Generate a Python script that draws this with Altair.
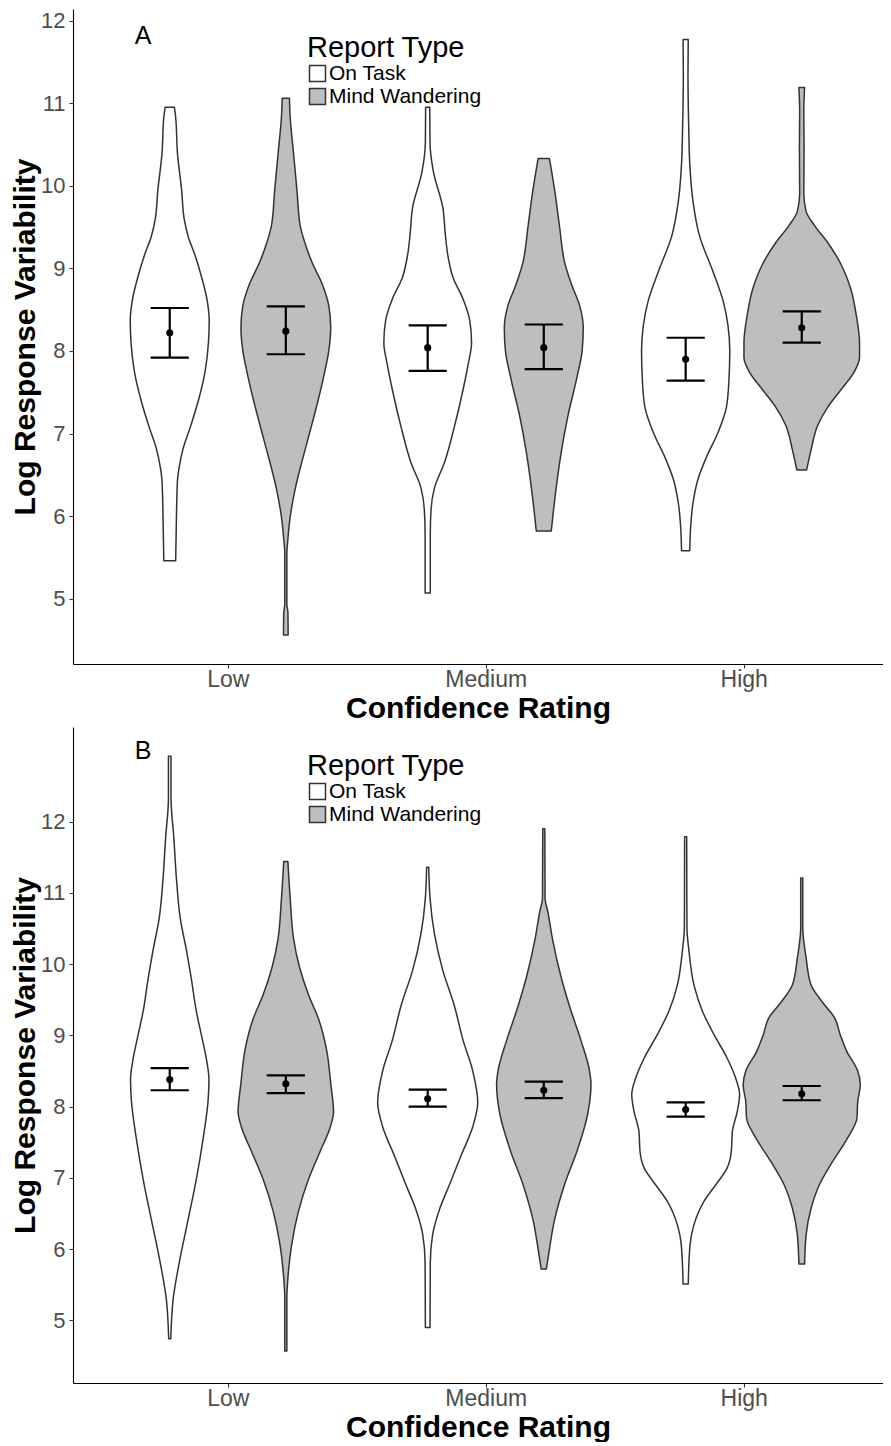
import altair as alt
import pandas as pd

FONT = "Liberation Sans"

categories = ["Low", "Medium", "High"]
groups = ["On Task", "Mind Wandering"]
fills = ["#FFFFFF", "#BEBEBE"]

# ---------- Panel A violin outlines (value, half-width in category units) ----------
A_low_ot_y = [10.95, 10.83, 10.39, 9.95, 9.60, 9.38, 9.16, 8.89, 8.63, 8.37, 8.10, 7.75, 7.40, 7.09, 6.82, 6.60, 6.43, 5.99, 5.46]
A_low_ot_w = [0.018, 0.023, 0.030, 0.046, 0.056, 0.072, 0.098, 0.124, 0.144, 0.153, 0.150, 0.137, 0.111, 0.081, 0.052, 0.037, 0.030, 0.026, 0.023]
A_low_mw_y = [11.06, 10.83, 10.39, 9.95, 9.51, 9.29, 9.07, 8.81, 8.54, 8.28, 8.01, 7.75, 7.40, 7.04, 6.69, 6.34, 5.99, 5.72, 5.55, 4.93, 4.84, 4.56]
A_low_mw_w = [0.014, 0.017, 0.030, 0.043, 0.056, 0.076, 0.102, 0.141, 0.167, 0.174, 0.167, 0.151, 0.125, 0.095, 0.065, 0.037, 0.017, 0.008, 0.004, 0.004, 0.008, 0.009]
A_med_ot_y = [10.95, 10.52, 10.17, 9.73, 9.42, 9.16, 8.89, 8.63, 8.37, 8.10, 7.84, 7.53, 7.09, 6.65, 6.34, 6.08, 5.77, 5.07]
A_med_ot_w = [0.008, 0.009, 0.022, 0.059, 0.068, 0.078, 0.098, 0.137, 0.163, 0.170, 0.157, 0.137, 0.104, 0.065, 0.026, 0.013, 0.010, 0.010]
A_med_mw_y = [10.33, 9.95, 9.51, 9.07, 8.81, 8.54, 8.28, 8.01, 7.66, 7.22, 6.78, 6.34, 5.82]
A_med_mw_w = [0.022, 0.042, 0.061, 0.081, 0.107, 0.140, 0.153, 0.149, 0.127, 0.094, 0.068, 0.048, 0.029]
A_high_ot_y = [11.77, 11.34, 10.69, 10.26, 9.82, 9.39, 8.96, 8.61, 8.31, 8.01, 7.66, 7.32, 7.01, 6.71, 6.45, 6.15, 5.85, 5.58]
A_high_ot_w = [0.010, 0.009, 0.012, 0.016, 0.028, 0.054, 0.106, 0.145, 0.164, 0.171, 0.168, 0.158, 0.125, 0.080, 0.048, 0.028, 0.019, 0.016]
A_high_mw_y = [11.19, 10.91, 10.47, 9.91, 9.69, 9.52, 9.31, 9.05, 8.74, 8.44, 8.10, 7.92, 7.75, 7.53, 7.32, 7.10, 6.80, 6.56]
A_high_mw_w = [0.011, 0.008, 0.009, 0.008, 0.017, 0.049, 0.101, 0.152, 0.191, 0.211, 0.224, 0.224, 0.204, 0.152, 0.101, 0.062, 0.036, 0.019]

# ---------- Panel B violin outlines ----------
B_low_ot_y = [12.92, 12.33, 11.77, 11.20, 10.64, 10.19, 9.79, 9.34, 9.00, 8.67, 8.38, 8.10, 7.54, 6.98, 6.41, 5.85, 5.29, 4.74]
B_low_ot_w = [0.005, 0.005, 0.016, 0.026, 0.041, 0.065, 0.084, 0.103, 0.123, 0.142, 0.152, 0.149, 0.129, 0.103, 0.071, 0.039, 0.013, 0.004]
B_low_mw_y = [11.44, 10.92, 10.36, 9.96, 9.57, 9.23, 8.78, 8.33, 7.93, 7.71, 7.37, 6.98, 6.53, 6.07, 5.68, 5.29, 4.57]
B_low_mw_w = [0.008, 0.017, 0.030, 0.053, 0.088, 0.127, 0.159, 0.174, 0.185, 0.172, 0.133, 0.088, 0.049, 0.023, 0.010, 0.004, 0.004]
B_med_ot_y = [11.36, 10.93, 10.43, 9.92, 9.42, 8.92, 8.51, 8.06, 7.71, 7.31, 6.90, 6.55, 6.20, 5.80, 4.90]
B_med_ot_w = [0.004, 0.009, 0.026, 0.058, 0.103, 0.138, 0.174, 0.194, 0.174, 0.129, 0.084, 0.045, 0.019, 0.010, 0.009]
B_med_mw_y = [11.90, 10.93, 10.73, 10.33, 9.82, 9.42, 8.92, 8.51, 8.31, 7.91, 7.41, 6.90, 6.40, 6.00, 5.72]
B_med_mw_w = [0.004, 0.005, 0.016, 0.035, 0.067, 0.099, 0.145, 0.177, 0.183, 0.171, 0.132, 0.080, 0.041, 0.022, 0.010]
B_high_ot_y = [11.79, 10.51, 10.18, 9.71, 9.34, 9.01, 8.68, 8.40, 8.17, 7.93, 7.65, 7.37, 7.14, 6.90, 6.67, 6.34, 6.06, 5.51]
B_high_ot_w = [0.004, 0.005, 0.013, 0.032, 0.065, 0.110, 0.161, 0.194, 0.209, 0.200, 0.181, 0.177, 0.161, 0.116, 0.071, 0.032, 0.017, 0.010]
B_high_mw_y = [11.21, 10.51, 10.09, 9.71, 9.43, 9.25, 9.01, 8.78, 8.50, 8.31, 8.07, 7.84, 7.56, 7.23, 6.90, 6.57, 6.20, 5.79]
B_high_mw_w = [0.004, 0.004, 0.017, 0.036, 0.088, 0.127, 0.149, 0.174, 0.217, 0.227, 0.217, 0.214, 0.178, 0.120, 0.068, 0.036, 0.017, 0.011]

# ---------- means and error bars (per category Low, Medium, High) ----------
A_ot_mean = [8.22, 8.04, 7.90]
A_ot_lo = [7.92, 7.76, 7.64]
A_ot_hi = [8.52, 8.31, 8.16]
A_mw_mean = [8.24, 8.04, 8.28]
A_mw_lo = [7.96, 7.78, 8.10]
A_mw_hi = [8.54, 8.32, 8.48]

B_ot_mean = [8.38, 8.11, 7.96]
B_ot_lo = [8.23, 8.00, 7.86]
B_ot_hi = [8.54, 8.24, 8.06]
B_mw_mean = [8.32, 8.23, 8.18]
B_mw_lo = [8.19, 8.12, 8.09]
B_mw_hi = [8.44, 8.35, 8.29]

DODGE = 0.225
CAP = 0.074
XMIN, XMAX = 0.4, 3.54


def violin_frame(outlines):
    rows = []
    for (ci, gi), (ys, ws) in outlines.items():
        center = ci + 1 + (-DODGE if gi == 0 else DODGE)
        for v, w in zip(ys, ws):
            rows.append({"vid": f"{categories[ci]}-{groups[gi]}", "group": groups[gi],
                         "v": v, "left": center - w, "right": center + w})
    return pd.DataFrame(rows)


def error_frame(stats):
    rows = []
    for gi, (means, los, his) in enumerate(stats):
        for ci in range(3):
            center = ci + 1 + (-DODGE if gi == 0 else DODGE)
            rows.append({"group": groups[gi], "center": center, "mean": means[ci],
                         "lo": los[ci], "hi": his[ci],
                         "capl": center - CAP, "capr": center + CAP})
    return pd.DataFrame(rows)


vA = violin_frame({
    (0, 0): (A_low_ot_y, A_low_ot_w), (0, 1): (A_low_mw_y, A_low_mw_w),
    (1, 0): (A_med_ot_y, A_med_ot_w), (1, 1): (A_med_mw_y, A_med_mw_w),
    (2, 0): (A_high_ot_y, A_high_ot_w), (2, 1): (A_high_mw_y, A_high_mw_w),
})
vB = violin_frame({
    (0, 0): (B_low_ot_y, B_low_ot_w), (0, 1): (B_low_mw_y, B_low_mw_w),
    (1, 0): (B_med_ot_y, B_med_ot_w), (1, 1): (B_med_mw_y, B_med_mw_w),
    (2, 0): (B_high_ot_y, B_high_ot_w), (2, 1): (B_high_mw_y, B_high_mw_w),
})
eA = error_frame([(A_ot_mean, A_ot_lo, A_ot_hi), (A_mw_mean, A_mw_lo, A_mw_hi)])
eB = error_frame([(B_ot_mean, B_ot_lo, B_ot_hi), (B_mw_mean, B_mw_lo, B_mw_hi)])

label_expr = " : ".join(
    f"datum.value == {i + 1} ? '{c}'" for i, c in enumerate(categories[:-1])
) + f" : '{categories[-1]}'"


def panel(vdf, edf, ydomain, letter, letter_y, height):
    xs = alt.Scale(domain=[XMIN, XMAX], nice=False, zero=False)
    ys = alt.Scale(domain=ydomain, nice=False, zero=False)
    xa = alt.Axis(values=[1, 2, 3], labelExpr=label_expr, title="Confidence Rating",
                  labelFontSize=23, titleFontSize=30, labelPadding=0, titlePadding=2,
                  labelFlush=False)
    ya = alt.Axis(values=list(range(5, 13)), title="Log Response Variability",
                  labelFontSize=22, titleFontSize=30, labelPadding=4, titlePadding=0)

    violins = alt.Chart(vdf).mark_area(
        orient="horizontal", interpolate="monotone", stroke="#333333",
        strokeWidth=1.5, strokeJoin="round", opacity=1
    ).encode(
        y=alt.Y("v:Q", scale=ys, axis=ya),
        x=alt.X("left:Q", scale=xs, axis=xa),
        x2="right:Q",
        fill=alt.Fill("group:N", scale=alt.Scale(domain=groups, range=fills),
                      legend=alt.Legend(
                          title="Report Type", orient="none", legendX=234, legendY=25,
                          symbolType="square", symbolSize=256,
                          symbolStrokeColor="#333333", symbolStrokeWidth=1.5,
                          titleFont=FONT, titleFontSize=29, titleFontWeight="normal",
                          titleColor="black", labelFont=FONT, labelFontSize=21,
                          labelColor="black", labelLimit=400, rowPadding=0,
                          titlePadding=0, labelOffset=1, padding=0)),
        detail="vid:N",
    )
    stems = alt.Chart(edf).mark_rule(color="black", strokeWidth=2.2).encode(
        x=alt.X("center:Q", scale=xs, axis=xa),
        y=alt.Y("lo:Q", scale=ys, axis=ya), y2="hi:Q")
    cap_hi = alt.Chart(edf).mark_rule(color="black", strokeWidth=2.2).encode(
        x=alt.X("capl:Q", scale=xs, axis=xa), x2="capr:Q",
        y=alt.Y("hi:Q", scale=ys, axis=ya))
    cap_lo = alt.Chart(edf).mark_rule(color="black", strokeWidth=2.2).encode(
        x=alt.X("capl:Q", scale=xs, axis=xa), x2="capr:Q",
        y=alt.Y("lo:Q", scale=ys, axis=ya))
    pts = alt.Chart(edf).mark_circle(color="black", size=50, opacity=1).encode(
        x=alt.X("center:Q", scale=xs, axis=xa),
        y=alt.Y("mean:Q", scale=ys, axis=ya))
    tag = alt.Chart(pd.DataFrame({"t": [letter]})).mark_text(
        font=FONT, fontSize=25, color="black", align="center", baseline="middle"
    ).encode(text="t:N", x=alt.value(70), y=alt.value(letter_y))
    return alt.layer(violins, stems, cap_hi, cap_lo, pts, tag).properties(
        width=810, height=height)


pA = panel(vA, eA, [4.21, 12.14], "A", 27, 655)
pB = panel(vB, eB, [4.12, 13.33], "B", 24, 656)

chart = alt.vconcat(pA, pB, spacing=4).resolve_scale(
    fill="independent").resolve_legend(fill="independent").properties(
    padding={"left": 2, "top": 1, "right": 0, "bottom": 0}
).configure_axis(
    domainColor="black", domainWidth=1.1, tickColor="#333333", tickSize=4,
    tickWidth=1.1, labelColor="#4D4D4D", labelFont=FONT, titleFont=FONT,
    titleColor="black", titleFontWeight="bold", grid=False
).configure_view(stroke=None)

chart.save("out.html", embed_options={"renderer": "svg", "actions": False})
